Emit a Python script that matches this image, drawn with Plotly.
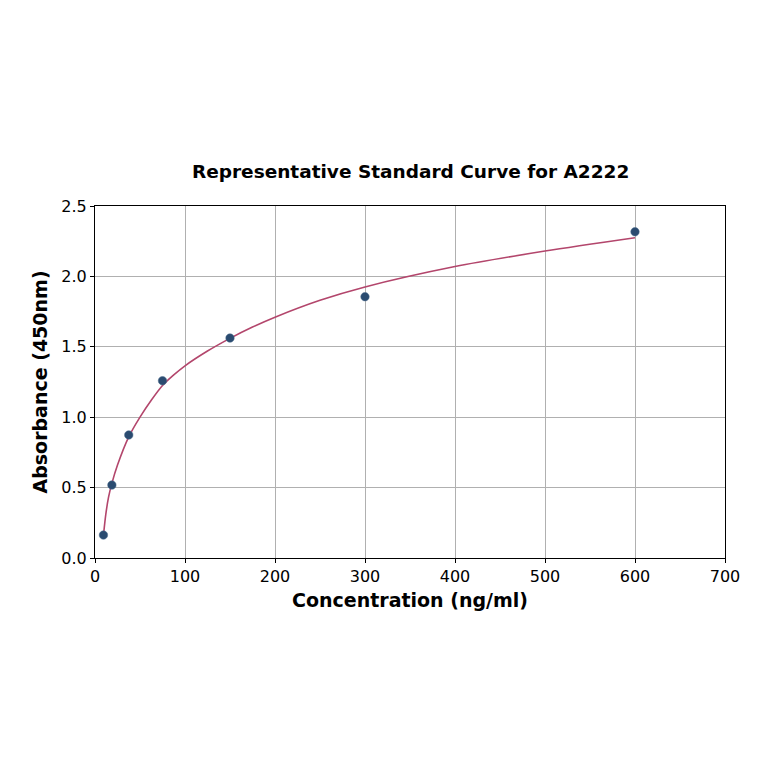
import plotly.graph_objects as go

# Standard points
conc = [9.375, 18.75, 37.5, 75, 150, 300, 600]
absorbance = [0.163, 0.518, 0.874, 1.259, 1.562, 1.856, 2.317]

# Fitted curve
fit_x = [9.375, 12, 15, 18.75, 25, 37.5, 50, 62.5, 75, 87.5, 100, 125, 150, 175, 200, 250, 300, 400, 500, 600]
fit_y = [0.16, 0.31, 0.43, 0.53, 0.66, 0.86, 1.0, 1.12, 1.225, 1.3, 1.365, 1.47, 1.56, 1.64, 1.71, 1.83, 1.925, 2.07, 2.18, 2.275]

x_ticks = [0, 100, 200, 300, 400, 500, 600, 700]
y_ticks = [0.0, 0.5, 1.0, 1.5, 2.0, 2.5]

font = "DejaVu Sans"

fig = go.Figure()
fig.add_trace(go.Scatter(x=fit_x, y=fit_y, mode="lines",
                         line=dict(color="#b3466c", width=1.6, shape="spline", smoothing=0.8),
                         showlegend=False, hoverinfo="skip"))
fig.add_trace(go.Scatter(x=conc, y=absorbance, mode="markers",
                         marker=dict(color="#2a4b70", size=8.5, line=dict(color="#4a6a8a", width=0.5)),
                         showlegend=False))

axis_common = dict(
    showgrid=True, gridcolor="#b0b0b0", gridwidth=1,
    showline=True, linecolor="black", linewidth=1, mirror=True,
    ticks="outside", ticklen=4, tickcolor="black",
    tickfont=dict(family=font, size=16, color="black"),
    zeroline=False,
)

# page body has an 8px margin, so the plot box is shifted back by 8px
fig.update_layout(
    width=764, height=764,
    margin=dict(l=87, r=47, t=198, b=214),
    paper_bgcolor="white", plot_bgcolor="white",
    title=dict(text="<b>Representative Standard Curve for A2222</b>", x=0.527, xanchor="center",
               y=1 - 164 / 764, yanchor="middle", font=dict(family=font, size=18.5, color="black")),
    xaxis=dict(range=[0, 700], tickvals=x_ticks, ticktext=[str(v) for v in x_ticks],
               title=dict(text="<b>Concentration (ng/ml)</b>", font=dict(family=font, size=19, color="black"),
                          standoff=8),
               **axis_common),
    yaxis=dict(range=[0, 2.5], tickvals=y_ticks, ticktext=[f"{v:.1f}" for v in y_ticks],
               title=dict(text="<b>Absorbance (450nm)</b>", font=dict(family=font, size=19, color="black"),
                          standoff=8),
               **axis_common),
)

fig.write_html("out.html")
